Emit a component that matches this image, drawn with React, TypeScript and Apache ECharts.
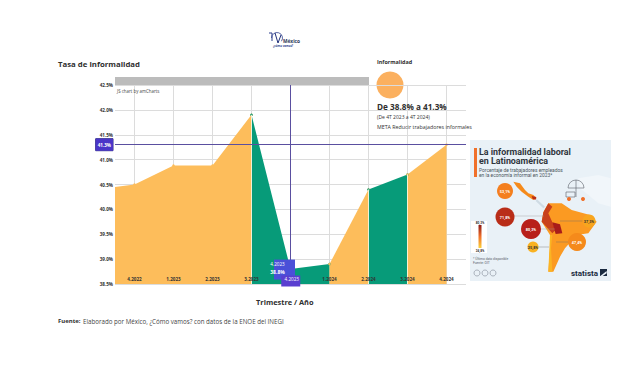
import React, { useEffect, useRef } from "react";
import * as echarts from "echarts";

const quarters = ["4.2022", "1.2023", "2.2023", "3.2023", "4.2023", "1.2024", "2.2024", "3.2024", "4.2024"];
const informality = [40.5, 40.88, 40.88, 41.9, 38.8, 38.9, 40.4, 40.7, 41.3];
const leadInValue = 40.45;
// colour group of every stretch between two consecutive points
const stretchGroups = ["up", "up", "up", "down", "down", "up", "down", "up"];
const yTicksMin = 38.5;
const yTicksMax = 42.5;
const selectedQuarter = "4.2023";
const selectedValue = 38.8;
const goalLineValue = 41.3;

const infoTitle = ["La informalidad laboral", "en Latinoamérica"];
const infoSubtitle = ["Porcentaje de trabajadores empleados", "en la economía informal en 2023*"];
const bubbleLabels = ["53,1%", "71,8%", "80,3%", "37,3%", "47,4%", "25,8%"];

const ORANGE = "#fdbd5b";
const GREEN = "#079b79";
const PURPLE = "#4a35c8";
const BLUE = "#4a50d8";
const LINE = "#5a4fa0";

const categories: string[] = [""];
quarters.forEach((q) => categories.push(q, ""));
const slot = (i: number) => i * 2 + 1;

function buildSegments() {
  const out: any[] = [];
  let start = 0;
  for (let i = 1; i <= stretchGroups.length; i++) {
    if (i === stretchGroups.length || stretchGroups[i] !== stretchGroups[start]) {
      const pts: any[] = [];
      if (start === 0) pts.push([0, leadInValue]);
      for (let k = start; k <= i; k++) pts.push([slot(k), informality[k]]);
      out.push({ group: stretchGroups[start], pts });
      start = i;
    }
  }
  return out;
}

// infographic drawing helpers: coordinates in panel-space
const zx = (x: number) => 465 + x / 3;
const zy = (y: number) => 135 + y / 3;
const poly = (pts: number[][], fill: string, z = 3) => ({
  type: "polygon",
  z,
  silent: true,
  shape: { points: pts.map(([x, y]) => [zx(x), zy(y)]) },
  style: { fill },
});
const txt = (text: string, x: number, y: number, font: string, fill = "#2b2b2b", extra: any = {}) => ({
  type: "text",
  z: 5,
  silent: true,
  x,
  y,
  style: { text, font, fill, textVerticalAlign: "middle", ...extra },
});

function infographic() {
  const F = "Roboto, sans-serif";
  const els: any[] = [
    { type: "rect", z: 2, silent: true, shape: { x: 470, y: 140, width: 141, height: 141 }, style: { fill: "#e9f1f7" } },
    poly([[340, 130], [400, 120], [437, 130], [437, 215], [400, 205], [370, 180], [345, 160]], "#f1f6fa"),
    { type: "rect", z: 3, silent: true, shape: { x: 474, y: 148, width: 3, height: 29 }, style: { fill: "#f0702a" } },
    txt(infoTitle[0], 479, 152, `bold 8.9px ${F}`, "#30363d"),
    txt(infoTitle[1], 479, 161, `bold 8.9px ${F}`, "#30363d"),
    txt(infoSubtitle[0], 479, 170, `4.9px ${F}`, "#4c5660"),
    txt(infoSubtitle[1], 479, 175, `4.9px ${F}`, "#4c5660"),
    // map
    poly([[145, 140], [165, 145], [180, 165], [190, 175], [205, 180], [215, 190], [205, 195], [190, 185], [170, 170], [155, 155]], "#f58a1b"),
    poly([[200, 183], [214, 186], [212, 194], [203, 192]], "#b92d18"),
    poly([[215, 192], [240, 215], [235, 220], [212, 198]], "#cfdbe4"),
    poly([[235, 232], [250, 205], [290, 205], [320, 225], [375, 240], [395, 260], [370, 295], [335, 300], [300, 340], [285, 365], [265, 410], [250, 410], [255, 340], [255, 300], [230, 260]], "#fb9a22"),
    poly([[235, 232], [250, 205], [262, 215], [250, 235], [262, 262], [272, 285], [262, 295], [230, 260]], "#c8401c"),
    poly([[262, 262], [285, 268], [292, 295], [272, 297]], "#a81c1a"),
    poly([[255, 300], [262, 300], [258, 340], [262, 410], [250, 410]], "#fbb423"),
    { type: "line", z: 4, silent: true, shape: { x1: 505, y1: 216, x2: 544, y2: 216 }, style: { stroke: "#9a9a9a", lineWidth: 0.4 } },
    { type: "line", z: 4, silent: true, shape: { x1: 531, y1: 229, x2: 555, y2: 229 }, style: { stroke: "#9a9a9a", lineWidth: 0.4 } },
    { type: "line", z: 4, silent: true, shape: { x1: 560, y1: 221, x2: 589, y2: 221 }, style: { stroke: "#6a6a6a", lineWidth: 0.4 } },
    { type: "line", z: 4, silent: true, shape: { x1: 556, y1: 242, x2: 577, y2: 242 }, style: { stroke: "#6a6a6a", lineWidth: 0.4 } },
    { type: "line", z: 4, silent: true, shape: { x1: 533, y1: 247, x2: 549, y2: 247 }, style: { stroke: "#6a6a6a", lineWidth: 0.4 } },
    // icon
    { type: "sector", z: 4, silent: true, shape: { cx: 576, cy: 188, r: 8, r0: 0, startAngle: Math.PI, endAngle: 0 }, style: { fill: "none", stroke: "#5a6068", lineWidth: 0.6 } },
    { type: "line", z: 4, silent: true, shape: { x1: 576, y1: 180, x2: 576, y2: 197 }, style: { stroke: "#5a6068", lineWidth: 0.6 } },
    { type: "rect", z: 4, silent: true, shape: { x: 566, y: 192, width: 9, height: 5 }, style: { fill: "none", stroke: "#5a6068", lineWidth: 0.6 } },
    { type: "circle", z: 4, silent: true, shape: { cx: 569, cy: 199, r: 2 }, style: { fill: "#f0702a" } },
    { type: "circle", z: 4, silent: true, shape: { cx: 583, cy: 199, r: 2 }, style: { fill: "#f0702a" } },
    // legend
    { type: "rect", z: 3, silent: true, shape: { x: 471, y: 221, width: 16, height: 32 }, style: { fill: "#ffffff" } },
    {
      type: "rect", z: 4, silent: true, shape: { x: 478.5, y: 225, width: 3, height: 23 },
      style: {
        fill: new echarts.graphic.LinearGradient(0, 0, 0, 1, [
          { offset: 0, color: "#8e1a16" },
          { offset: 0.5, color: "#f0702a" },
          { offset: 1, color: "#fcd23a" },
        ]),
      },
    },
    txt("80,3%", 480, 222.5, `bold 3.2px ${F}`, "#333", { textAlign: "center" }),
    txt("24,8%", 480, 250.5, `bold 3.2px ${F}`, "#333", { textAlign: "center" }),
    txt("* Último dato disponible", 473, 259, `3.3px ${F}`, "#5a626a"),
    txt("Fuente: OIT", 473, 263, `3.3px ${F}`, "#5a626a"),
    txt("statista", 571, 273, `bold 8px ${F}`, "#1a2a40"),
    { type: "rect", z: 4, silent: true, shape: { x: 600, y: 269, width: 7, height: 7 }, style: { fill: "#1a2a40" } },
    poly([[405, 424], [425, 408], [425, 415], [412, 424]], "#e9f1f7", 5),
  ];
  [477, 485, 493].forEach((cx) =>
    els.push({ type: "circle", z: 4, silent: true, shape: { cx, cy: 273, r: 3 }, style: { fill: "none", stroke: "#6a7280", lineWidth: 0.5 } })
  );
  const spots = [
    [505, 191, 8, "#f47f1f"],
    [505, 217, 9.5, "#b92d18"],
    [531, 229, 10, "#b81f1a"],
    [589, 221, 6.5, "#f8a51e"],
    [577, 242, 9, "#f58a1b"],
    [533, 247, 5.5, "#f9b222"],
  ] as const;
  spots.forEach(([cx, cy, r, fill], i) => {
    els.push({ type: "circle", z: 4, silent: true, shape: { cx, cy, r }, style: { fill } });
    els.push(txt(bubbleLabels[i], cx, cy, `bold 3.8px ${F}`, i === 3 || i === 5 ? "#333" : "#fff", { textAlign: "center" }));
  });
  return els;
}

function logo() {
  const F = '"Open Sans", sans-serif';
  return [
    { type: "arc", silent: true, shape: { cx: 277, cy: 38, r: 5.5, startAngle: Math.PI, endAngle: Math.PI * 0.2 }, style: { fill: "none", stroke: "#2c3e8c", lineWidth: 0.8 } },
    { type: "polyline", silent: true, shape: { points: [[269, 33], [272, 33], [272, 41]] }, style: { fill: "none", stroke: "#2c3e8c", lineWidth: 1 } },
    { type: "polyline", silent: true, shape: { points: [[275, 33], [278, 43], [281, 35]] }, style: { fill: "none", stroke: "#1f2f7a", lineWidth: 1 } },
    txt("México", 283, 40.5, `bold 4.8px ${F}`, "#2a3558"),
    txt("¿cómo vamos?", 273, 45.5, `bold 2.8px ${F}`, "#2c3e8c"),
  ];
}

export default function App() {
  const ref = useRef<HTMLDivElement>(null);
  useEffect(() => {
    document.body.style.margin = "0";
    document.body.style.background = "#fff";
    const chart = echarts.init(ref.current!, undefined, { renderer: "svg" });
    const F = '"Open Sans", sans-serif';

    const segments = buildSegments().map((s) => {
      const color = s.group === "up" ? ORANGE : GREEN;
      return {
        type: "line",
        data: s.pts,
        symbol: "circle",
        symbolSize: (_: any, p: any) => (p.data[0] === 0 ? 0 : 2.5),
        showSymbol: true,
        lineStyle: { width: 0 },
        itemStyle: { color },
        areaStyle: { color, opacity: 1, origin: "start" },
        silent: true,
        z: 2,
      };
    });

    const separators = [3, 6, 7].map((i) => [
      { coord: [slot(i), yTicksMin] },
      { coord: [slot(i), informality[i]] },
    ]);

    const selectedSlot = slot(quarters.indexOf(selectedQuarter));

    chart.setOption({
      animation: false,
      backgroundColor: "#ffffff",
      grid: { left: 115, right: 160, top: 85, bottom: 91 },
      xAxis: [
        {
          type: "category",
          data: categories,
          boundaryGap: false,
          axisLine: { show: false },
          axisTick: { show: false },
          axisLabel: { show: false },
          splitLine: { show: true, interval: (i: number) => i % 2 === 1, lineStyle: { color: "#dcdcdc", width: 1 } },
        },
        {
          type: "category",
          data: categories,
          boundaryGap: false,
          position: "bottom",
          z: 5,
          axisLine: { show: false },
          axisTick: { show: false },
          splitLine: { show: false },
          axisLabel: {
            inside: true,
            margin: 3,
            fontSize: 4.6,
            fontWeight: "bold",
            fontFamily: F,
            color: "#333",
            interval: (i: number) => i % 2 === 1 && categories[i] !== selectedQuarter,
          },
        },
      ],
      yAxis: {
        type: "value",
        min: yTicksMin,
        max: yTicksMax,
        interval: 0.5,
        axisLine: { show: false },
        axisTick: { show: false },
        axisLabel: {
          margin: 2,
          fontSize: 4.6,
          fontWeight: "bold",
          fontFamily: F,
          color: "#333",
          formatter: (v: number) => v.toFixed(1) + "%",
        },
        splitLine: { lineStyle: { color: "#dcdcdc", width: 1 } },
      },
      series: [
        ...segments,
        {
          type: "line",
          data: [[selectedSlot, selectedValue]],
          symbol: "none",
          lineStyle: { width: 0 },
          silent: true,
          z: 6,
          markLine: {
            silent: true,
            symbol: "none",
            z: 6,
            animation: false,
            data: [
              {
                yAxis: goalLineValue,
                lineStyle: { color: LINE, width: 1, type: "solid" },
                label: {
                  show: true,
                  position: "start",
                  distance: 2,
                  formatter: goalLineValue.toFixed(1) + "%",
                  color: "#fff",
                  fontSize: 4.6,
                  fontWeight: "bold",
                  fontFamily: F,
                  backgroundColor: PURPLE,
                  borderColor: "#2e2a80",
                  borderWidth: 0.5,
                  padding: [3.5, 2],
                },
              },
              {
                xAxis: selectedSlot,
                lineStyle: { color: LINE, width: 1, type: "solid" },
                label: { show: false },
              },
            ],
          },
          markPoint: {
            silent: true,
            z: 7,
            animation: false,
            data: [
              {
                coord: [selectedSlot, selectedValue],
                symbol: "rect",
                symbolSize: [21, 20],
                symbolOffset: [-6, 0.5],
                itemStyle: { color: BLUE },
                label: {
                  show: true,
                  position: "inside",
                  offset: [-7, -1.5],
                  formatter: `{a|${selectedQuarter}}\n{b|${selectedValue.toFixed(1)}%}`,
                  rich: {
                    a: { color: "#fff", fontSize: 4.6, fontFamily: F, lineHeight: 8 },
                    b: { color: "#fff", fontSize: 5, fontWeight: "bold", fontFamily: F, lineHeight: 8 },
                  },
                },
              },
              {
                coord: [selectedSlot, yTicksMin],
                symbol: "rect",
                symbolSize: [19, 11],
                symbolOffset: [0.25, -3],
                itemStyle: { color: "#5a3fd0" },
                label: {
                  show: true,
                  position: "inside",
                  offset: [1, -2],
                  formatter: selectedQuarter,
                  color: "#fff",
                  fontSize: 4.6,
                  fontFamily: F,
                },
              },
            ],
          },
        },
        {
          type: "line",
          data: [],
          silent: true,
          z: 3,
          markLine: {
            silent: true,
            symbol: "none",
            z: 3,
            animation: false,
            label: { show: false },
            lineStyle: { color: "#fff6dc", width: 1, type: "solid", opacity: 0.9 },
            data: separators,
          },
        },
      ],
      graphic: {
        elements: [
          ...logo(),
          { type: "rect", silent: true, shape: { x: 115, y: 77, width: 254, height: 8 }, style: { fill: "#bcbcbc" } },
          txt("JS chart by amCharts", 117, 90.5, `4.4px ${F}`, "#444"),
          txt("Tasa de informalidad", 58, 63.5, `bold 7.8px ${F}`, "#2f2f2f"),
          txt("Informalidad", 377, 61.5, `bold 5.4px ${F}`, "#2f2f2f"),
          { type: "circle", silent: true, shape: { cx: 390, cy: 85, r: 13.5 }, style: { fill: "#fbb05f" } },
          txt("De 38.8% a 41.3%", 377, 106.5, `bold 8.2px ${F}`, "#2f2f2f"),
          txt("(De 4T 2023 a 4T 2024)", 377, 116.5, `5px ${F}`, "#333"),
          txt("META Reducir trabajadores informales", 377, 126.5, `5.3px ${F}`, "#333"),
          txt("Trimestre / Año", 256, 302, `bold 7.4px ${F}`, "#2f2f2f"),
          txt("Fuente:", 58, 321, `bold 6px ${F}`, "#2f2f2f"),
          txt("Elaborado por México, ¿Cómo vamos? con datos de la ENOE del INEGI", 83, 321, `6.2px ${F}`, "#444"),
          ...infographic(),
        ],
      },
    });
    return () => chart.dispose();
  }, []);
  return <div ref={ref} style={{ width: 626, height: 375 }} />;
}
